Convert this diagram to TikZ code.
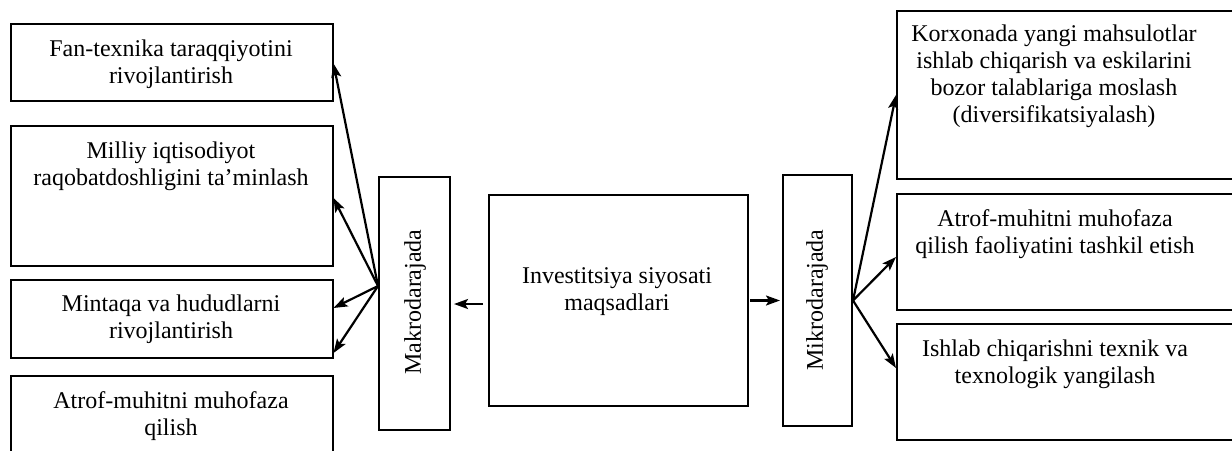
\documentclass[tikz,border=0pt]{standalone}
\usepackage{fontspec}
\setmainfont{Liberation Serif}
\usetikzlibrary{arrows.meta,calc}
\begin{document}
\begin{tikzpicture}[x=1pt,y=-1pt,
  box/.style={draw,line width=2pt,inner sep=0pt,anchor=north west},
  txt/.style={font=\fontsize{24}{27}\selectfont,align=center,anchor=base,inner sep=0pt},
  vtxt/.style={font=\fontsize{24}{27}\selectfont,rotate=90,inner sep=0pt},
  arr/.style={line width=2.2pt,-{Stealth[length=14pt,width=10pt,inset=3pt]}}]
\useasboundingbox (0,0) rectangle (1232,450);
\clip (0,0) rectangle (1232,450);
% left boxes
\node[box,minimum width=322pt,minimum height=77pt] (b1) at (9.5,23) {};
\node[box,minimum width=322pt,minimum height=140pt] (b2) at (9.5,125) {};
\node[box,minimum width=322pt,minimum height=78pt] (b3) at (9.5,279) {};
\node[box,minimum width=322pt,minimum height=100pt] (b4) at (9.5,375) {};
\node[txt] (t1) at (171,83) {Fan-texnika taraqqiyotini\\rivojlantirish};
\node[txt] (t2) at (171,185) {Milliy iqtisodiyot\\raqobatdoshligini ta’minlash};
\node[txt] (t3) at (171,338) {Mintaqa va hududlarni\\rivojlantirish};
\node[txt] (t4) at (171,435) {Atrof-muhitni muhofaza\\qilish};
% middle
\node[box,minimum width=71pt,minimum height=253pt] (mak) at (378,176) {};
\node[vtxt] (makt) at (415,302) {Makrodarajada};
\node[box,minimum width=259pt,minimum height=211pt] (cen) at (488,194) {};
\node[txt] (cent) at (617,310) {Investitsiya siyosati\\maqsadlari};
\node[box,minimum width=69pt,minimum height=251pt] (mik) at (782,174) {};
\node[vtxt] (mikt) at (817,300) {Mikrodarajada};
% right boxes
\node[box,minimum width=360pt,minimum height=168pt] (r1) at (896,10) {};
\node[box,minimum width=360pt,minimum height=116pt] (r2) at (896,193) {};
\node[box,minimum width=360pt,minimum height=116pt] (r3) at (896,323) {};
\node[txt] (rt1) at (1054,122) {Korxonada yangi mahsulotlar\\ishlab chiqarish va eskilarini\\bozor talablariga moslash\\(diversifikatsiyalash)};
\node[txt] (rt2) at (1055,253) {Atrof-muhitni muhofaza\\qilish faoliyatini tashkil etish};
\node[txt] (rt3) at (1055,383) {Ishlab chiqarishni texnik va\\texnologik yangilash};
% connectors
\coordinate (ml) at ($(mak.west)+(0,-17.5)$);
\coordinate (mr) at (mik.east);
\draw[arr] (ml) -- ([yshift=-1pt]b1.east);
\draw[arr] (ml) -- ([yshift=-2pt]b2.east);
\draw[arr] (ml) -- ([yshift=11pt]b3.east);
\draw[arr] (ml) -- ([yshift=22pt]b4.north east);
\draw[arr,shorten <=5pt,shorten >=3pt] ([yshift=-3.5pt]cen.west) -- ([yshift=-3.5pt]cen.west -| mak.east);
\draw[arr,shorten <=1pt,shorten >=2pt] (cen.east) -- (cen.east -| mik.west);
\draw[arr] (mr) -- (r1.west);
\draw[arr] (mr) -- ([yshift=-5pt]r2.west);
\draw[arr] (mr) -- ([yshift=14pt]r3.west);
\end{tikzpicture}
\end{document}
